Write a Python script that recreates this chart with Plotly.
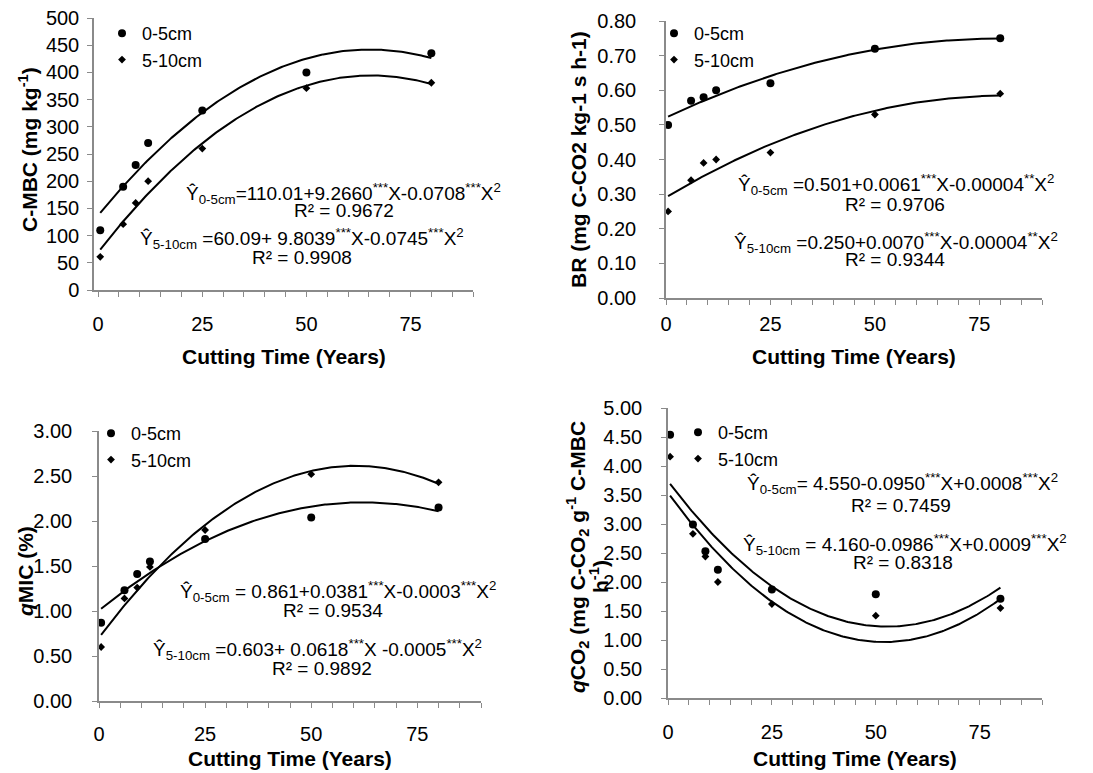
import numpy as np
import plotly.graph_objects as go

# ---------------- data ----------------
years = [0.5, 6, 9, 12, 25, 50, 80]
depth_labels = ["0-5cm", "5-10cm"]

cmbc_0_5 = [110, 190, 230, 270, 330, 400, 435]
cmbc_5_10 = [61, 121, 160, 200, 260, 371, 381]
br_0_5 = [0.50, 0.57, 0.58, 0.60, 0.62, 0.72, 0.75]
br_5_10 = [0.25, 0.34, 0.39, 0.40, 0.42, 0.53, 0.59]
qmic_0_5 = [0.87, 1.23, 1.41, 1.55, 1.80, 2.04, 2.15]
qmic_5_10 = [0.60, 1.14, 1.26, 1.49, 1.90, 2.52, 2.43]
qco2_0_5 = [4.54, 2.99, 2.53, 2.21, 1.87, 1.79, 1.71]
qco2_5_10 = [4.16, 2.83, 2.44, 2.00, 1.62, 1.42, 1.55]

x_tick_labels = [0, 25, 50, 75]

eq_cmbc = ["Ŷ<sub>0-5cm</sub>=110.01+9.2660<sup>***</sup>X-0.0708<sup>***</sup>X<sup>2</sup>", "R² = 0.9672",
           "Ŷ<sub>5-10cm</sub> =60.09+ 9.8039<sup>***</sup>X-0.0745<sup>***</sup>X<sup>2</sup>", "R² = 0.9908"]
eq_br = ["Ŷ<sub>0-5cm</sub> =0.501+0.0061<sup>***</sup>X-0.00004<sup>**</sup>X<sup>2</sup>", "R² = 0.9706",
         "Ŷ<sub>5-10cm</sub> =0.250+0.0070<sup>***</sup>X-0.00004<sup>**</sup>X<sup>2</sup>", "R² = 0.9344"]
eq_qmic = ["Ŷ<sub>0-5cm</sub> = 0.861+0.0381<sup>***</sup>X-0.0003<sup>***</sup>X<sup>2</sup>", "R² = 0.9534",
           "Ŷ<sub>5-10cm</sub> =0.603+ 0.0618<sup>***</sup>X -0.0005<sup>***</sup>X<sup>2</sup>", "R² = 0.9892"]
eq_qco2 = ["Ŷ<sub>0-5cm</sub>= 4.550-0.0950<sup>***</sup>X+0.0008<sup>***</sup>X<sup>2</sup>", "R² = 0.7459",
           "Ŷ<sub>5-10cm</sub> = 4.160-0.0986<sup>***</sup>X+0.0009<sup>***</sup>X<sup>2</sup>", "R² = 0.8318"]

# ---------------- layout helpers ----------------
W, H = 1093, 773
FONT = "Liberation Sans, Arial, sans-serif"
AXC = "#8a8a8a"


def px_x(p):
    return p / W


def px_y(p):
    return 1 - p / H


panels = [
    dict(s0=cmbc_0_5, s1=cmbc_5_10, xd=(94, 473), yd=(290, 18), xr=[-1, 90], yr=[0, 500], dt=50, fmt="d",
         xs=10, ys=4, leg=(102, 15), eqs=eq_cmbc, eqpos=[(343, 193), (344, 210), (302, 238), (302, 257)]),
    dict(s0=br_0_5, s1=br_5_10, xd=(666, 1042), yd=(298, 21), xr=[0, 90], yr=[0, 0.8], dt=0.1, fmt=".2f",
         xs=2, ys=19, leg=(654, 15), eqs=eq_br, eqpos=[(896, 184), (895, 205), (896, 243), (895, 259)]),
    dict(s0=qmic_0_5, s1=qmic_5_10, xd=(99, 481), yd=(701, 431), xr=[0, 90], yr=[0, 3], dt=0.5, fmt=".2f",
         xs=9, ys=16, leg=(91, 415), eqs=eq_qmic, eqpos=[(338, 591), (333, 610), (317, 649), (322, 668)]),
    dict(s0=qco2_0_5, s1=qco2_5_10, xd=(668, 1042), yd=(698, 408), xr=[0, 90], yr=[0, 5], dt=0.5, fmt=".2f",
         xs=10, ys=15, leg=(678, 414), eqs=eq_qco2, eqpos=[(902, 483), (901, 505), (905, 544), (903, 562)]),
]

fig = go.Figure()
annotations = []
tickvals = list(range(0, 91, 5))
ticktext = [str(v) if v in x_tick_labels else "" for v in tickvals]
xfit = np.linspace(min(years), max(years), 200)

for i, p in enumerate(panels):
    k = "" if i == 0 else str(i + 1)
    xa, ya = "x" + k, "y" + k
    legname = "legend" + k
    for j, (series, sym, size) in enumerate([(p["s0"], "circle", 8), (p["s1"], "diamond", 6)]):
        fig.add_trace(go.Scatter(
            x=years, y=series, mode="markers", name=depth_labels[j],
            marker=dict(symbol=sym, size=size, color="black"),
            xaxis=xa, yaxis=ya, legend=legname, showlegend=True))
        # quadratic trend line (least-squares fit of the plotted points)
        coef = np.polyfit(years, series, 2)
        fig.add_trace(go.Scatter(
            x=xfit, y=np.polyval(coef, xfit), mode="lines",
            line=dict(color="black", width=2), xaxis=xa, yaxis=ya,
            showlegend=False, hoverinfo="skip"))

    xdom = [px_x(p["xd"][0]), px_x(p["xd"][1])]
    ydom = [px_y(p["yd"][0]), px_y(p["yd"][1])]
    fig.layout["xaxis" + k] = dict(
        domain=xdom, range=p["xr"], anchor=ya, tickmode="array", tickvals=tickvals, ticktext=ticktext,
        showline=True, linecolor=AXC, linewidth=1.5, ticks="outside", ticklen=5, tickcolor=AXC,
        tickwidth=1.2, showgrid=False, zeroline=False, ticklabelstandoff=p["xs"], automargin=False,
        tickfont=dict(family=FONT, size=20, color="black"))
    fig.layout["yaxis" + k] = dict(
        domain=ydom, range=p["yr"], anchor=xa, dtick=p["dt"], tick0=0, tickformat=p["fmt"],
        showline=True, linecolor=AXC, linewidth=1.5, ticks="outside", ticklen=5, tickcolor=AXC,
        tickwidth=1.2, showgrid=False, zeroline=False, ticklabelstandoff=p["ys"], automargin=False,
        tickfont=dict(family=FONT, size=20, color="black"))
    fig.layout[legname] = dict(
        x=px_x(p["leg"][0]), y=px_y(p["leg"][1]), xanchor="left", yanchor="top",
        bgcolor="rgba(0,0,0,0)", itemwidth=30, tracegroupgap=0,
        font=dict(family=FONT, size=18, color="black"))

    for txt, (ex, ey) in zip(p["eqs"], p["eqpos"]):
        annotations.append(dict(text=txt, x=px_x(ex), y=px_y(ey), xref="paper", yref="paper",
                                xanchor="center", yanchor="middle", showarrow=False,
                                font=dict(family=FONT, size=19, color="black")))

    annotations.append(dict(text="<b>Cutting Time (Years)</b>",
                            x=px_x((p["xd"][0] + p["xd"][1]) / 2),
                            y=px_y(357 if i < 2 else 758), xref="paper", yref="paper",
                            xanchor="center", yanchor="middle", showarrow=False,
                            font=dict(family=FONT, size=21, color="black")))

ytitles = [
    ("<b>C-MBC (mg kg<sup>-1</sup>)</b>", 28, 150),
    ("<b>BR (mg C-CO2 kg-1 s h-1)</b>", 578, 160),
    ("<b><i>q</i>MIC (%)</b>", 25, 571),
    ("<b><i>q</i>CO<sub>2</sub> (mg C-CO<sub>2</sub> g<sup>-1</sup> C-MBC</b>", 577, 557),
    ("<b>h<sup>-1</sup>)</b>", 599, 577),
]
for txt, tx, ty in ytitles:
    annotations.append(dict(text=txt, x=px_x(tx), y=px_y(ty), xref="paper", yref="paper",
                            xanchor="center", yanchor="middle", textangle=-90, showarrow=False,
                            font=dict(family=FONT, size=21, color="black")))

fig.update_layout(
    template="none",
    width=W, height=H, margin=dict(l=0, r=0, t=0, b=0, autoexpand=False),
    paper_bgcolor="white", plot_bgcolor="white",
    annotations=annotations, font=dict(family=FONT, color="black"),
)

fig.write_html("out.html", config={"displayModeBar": False},
               post_script="document.body.style.margin='0px';")
